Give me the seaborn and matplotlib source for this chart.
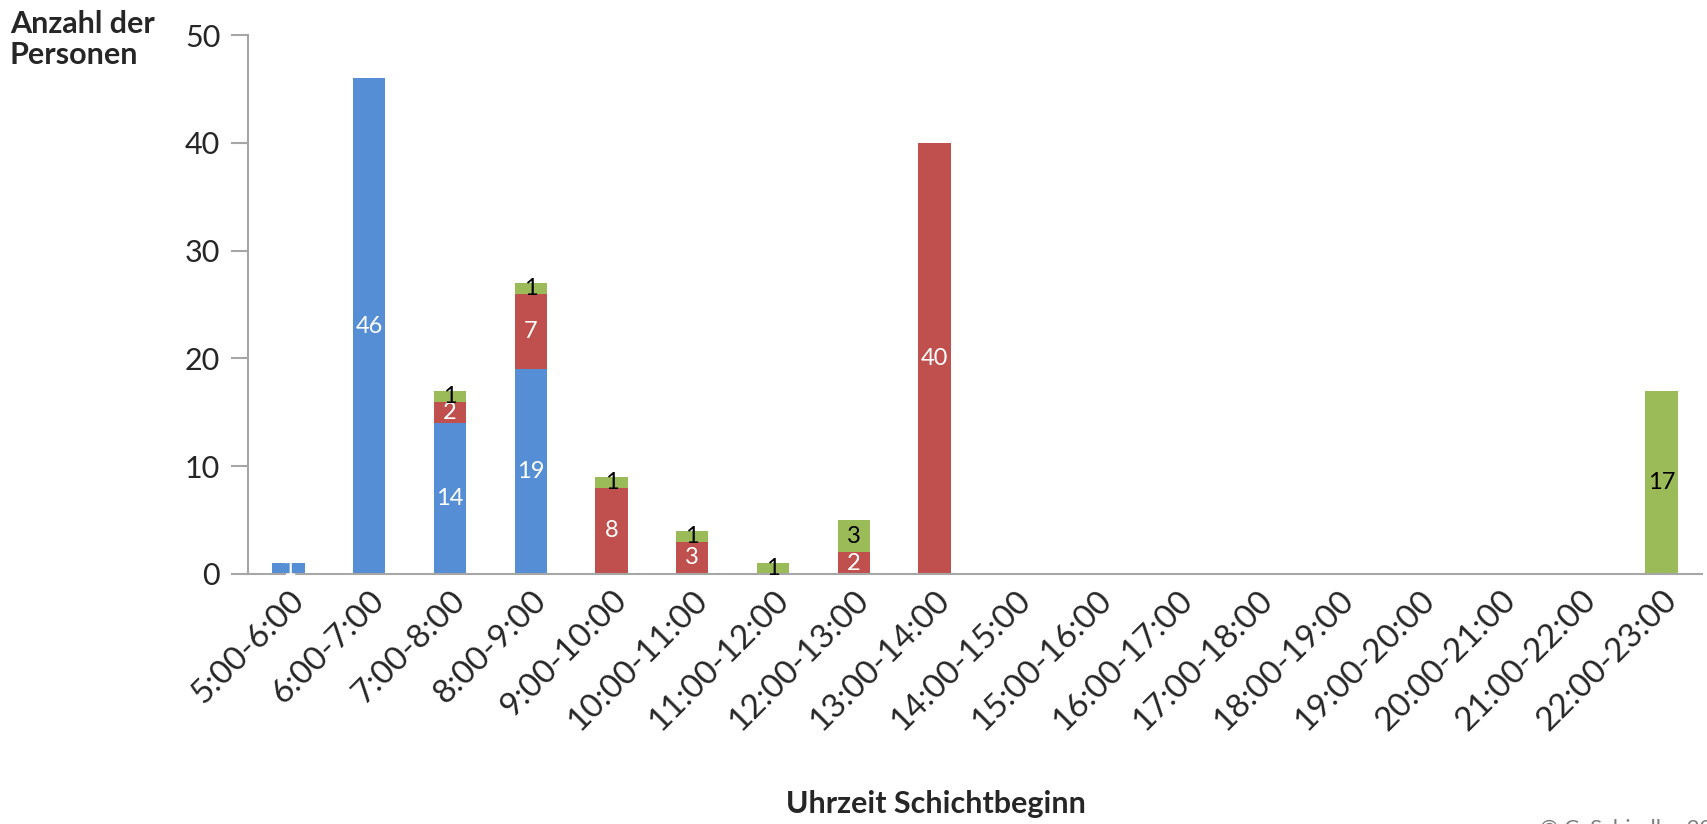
import matplotlib
matplotlib.use("Agg")
import matplotlib.pyplot as plt
import seaborn as sns
import numpy as np

# shift start slots
slots = [
    "5:00-6:00", "6:00-7:00", "7:00-8:00", "8:00-9:00", "9:00-10:00",
    "10:00-11:00", "11:00-12:00", "12:00-13:00", "13:00-14:00", "14:00-15:00",
    "15:00-16:00", "16:00-17:00", "17:00-18:00", "18:00-19:00", "19:00-20:00",
    "20:00-21:00", "21:00-22:00", "22:00-23:00",
]
blue_vals = [1, 46, 14, 19, 0, 0, 0, 0, 0, 0, 0, 0, 0, 0, 0, 0, 0, 0]
red_vals = [0, 0, 2, 7, 8, 3, 0, 2, 40, 0, 0, 0, 0, 0, 0, 0, 0, 0]
green_vals = [0, 0, 1, 1, 1, 1, 1, 3, 0, 0, 0, 0, 0, 0, 0, 0, 0, 17]

y_ticks = [0, 10, 20, 30, 40, 50]

sns.set_theme(style="white")
plt.rcParams["font.family"] = ["Lato", "DejaVu Sans"]

grey = "#A6A6A6"
fig = plt.figure(figsize=(17.07, 8.24), dpi=100)
ax = fig.add_axes([0.1453, 0.3034, 0.8517, 0.6541])

blue = np.array(blue_vals)
red = np.array(red_vals)
green = np.array(green_vals)

series = [
    (blue, np.zeros(len(slots)), "#558ED5", "white"),
    (red, blue, "#C0504D", "white"),
    (green, blue + red, "#9BBB59", "black"),
]

for vals, bottom, color, txt_color in series:
    sns.barplot(x=slots, y=vals, bottom=bottom, color=color, saturation=1,
                width=0.4, linewidth=0, ax=ax)
    bars = ax.containers[-1]
    labels = [str(v) if v > 0 else "" for v in vals]
    ax.bar_label(bars, labels=labels, label_type="center",
                 color=txt_color, fontsize=17)

ax.set_xlim(-0.5, 17.5)
ax.set_ylim(0, 50)
ax.set_yticks(y_ticks)
ax.tick_params(axis="y", direction="out", length=12, width=1.5, color=grey,
               labelsize=22, pad=8, left=True)
ax.tick_params(axis="x", length=0, labelsize=24, pad=8)
plt.setp(ax.get_xticklabels(), rotation=45, ha="right", rotation_mode="anchor")

for side in ["top", "right"]:
    ax.spines[side].set_visible(False)
for side in ["left", "bottom"]:
    ax.spines[side].set_color(grey)
    ax.spines[side].set_linewidth(1.5)
ax.set_xlabel("")
ax.set_ylabel("")

fig.text(10 / 1707, 1 - 10 / 824, "Anzahl der\nPersonen", fontsize=22,
         fontweight="bold", ha="left", va="top", linespacing=1.15)
fig.text(936 / 1707, 1 - 813 / 824, "Uhrzeit Schichtbeginn", fontsize=22,
         fontweight="bold", ha="center", va="baseline")
fig.text(1540 / 1707, 1 - 819 / 824, "© C. Schindler 2013", fontsize=16,
         color="#7F7F7F", ha="left", va="top")

fig.savefig("out.png", dpi=100)
